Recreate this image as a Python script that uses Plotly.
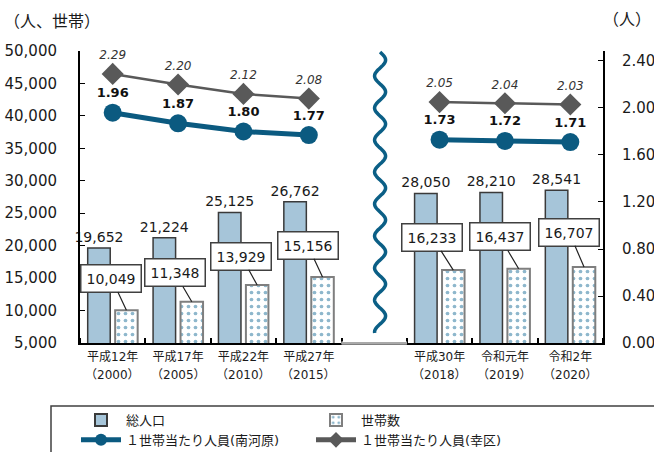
import numpy as np
import plotly.graph_objects as go

# ---- data -------------------------------------------------------------
era_labels = ["平成12年", "平成17年", "平成22年", "平成27年", "", "平成30年", "令和元年", "令和2年"]
year_labels = ["（2000）", "（2005）", "（2010）", "（2015）", "", "（2018）", "（2019）", "（2020）"]
population = [19652, 21224, 25125, 26762, None, 28050, 28210, 28541]
households = [10049, 11348, 13929, 15156, None, 16233, 16437, 16707]
persons_minamikawara = [1.96, 1.87, 1.80, 1.77, None, 1.73, 1.72, 1.71]
persons_saiwai = [2.29, 2.20, 2.12, 2.08, None, 2.05, 2.04, 2.03]

# offsets (px) of the household value boxes from the bar tops
box_offsets = [(-15, -32), (-17, -29), (-16, -29), (-15, -32), None,
               (-21, -33), (-19, -32), (-15, -35)]

W, H = 654, 452
ML, MR, MT, MB = 80, 51, 51, 109
PW, PH = W - ML - MR, H - MT - MB

FONT = "DejaVu Sans, Noto Sans CJK JP, sans-serif"
BLUE = "#0B5A80"
GREY = "#595959"

x = list(range(len(era_labels)))
bargap, groupgap = 0.16, 0.18
bar_shift = (1 - bargap) / 4  # centre of each bar within its slot


def px_to_paper_x(px):
    return (px - ML) / PW


def px_to_paper_y(py):
    return (H - MB - py) / PH


fig = go.Figure()

fig.add_trace(go.Bar(
    x=x, y=population, name="総人口",
    marker=dict(color="#A6C5D9", line=dict(color="#3a3a3a", width=1.5)),
    texttemplate="%{y:,}", textposition="outside", constraintext="none",
    textfont=dict(size=14, color="#1a1a1a"), cliponaxis=False,
))
fig.add_trace(go.Bar(
    x=x, y=households, name="世帯数",
    marker=dict(color="white", line=dict(color="#7f7f7f", width=2),
                pattern=dict(shape=".", fgcolor="#1d6f99", bgcolor="white",
                             size=7, solidity=0.22)),
))
fig.add_trace(go.Scatter(
    x=x, y=persons_minamikawara, name="１世帯当たり人員(南河原)", yaxis="y2",
    mode="lines+markers+text", connectgaps=False,
    line=dict(color=BLUE, width=5),
    marker=dict(symbol="circle", size=18, color=BLUE),
    texttemplate="<b>%{y:.2f}</b>", textposition="top center",
    textfont=dict(size=13, color="#111111"), cliponaxis=False,
))
fig.add_trace(go.Scatter(
    x=x, y=persons_saiwai, name="１世帯当たり人員(幸区)", yaxis="y2",
    mode="lines+markers+text", connectgaps=False,
    line=dict(color=GREY, width=2.5),
    marker=dict(symbol="diamond", size=17, color=GREY),
    texttemplate="<i>%{y:.2f}</i>", textposition="top center",
    textfont=dict(size=12, color="#333333"), cliponaxis=False,
))

annotations = []
# boxed household values with leader lines
for i, (v, off) in enumerate(zip(households, box_offsets)):
    if v is None:
        continue
    annotations.append(dict(
        x=i + bar_shift, y=v, xref="x", yref="y",
        text=f"{v:,}", showarrow=True, arrowhead=0, arrowwidth=1.2,
        arrowcolor="#222222", ax=off[0], ay=off[1],
        bgcolor="white", bordercolor="#404040", borderwidth=1.5, borderpad=5,
        font=dict(size=14, color="#1a1a1a"),
    ))
# second line of the category labels (western year)
for i, lab in enumerate(year_labels):
    if lab:
        annotations.append(dict(
            x=i, y=0, xref="x", yref="paper", yanchor="top", yshift=-23,
            text=lab, showarrow=False, font=dict(size=12, color="#1a1a1a"),
        ))
# unit labels
annotations.append(dict(x=px_to_paper_x(52), y=px_to_paper_y(21), xref="paper", yref="paper",
                        text="（人、世帯）", showarrow=False, xanchor="center", yanchor="middle",
                        font=dict(size=16, color="#1a1a1a")))
annotations.append(dict(x=px_to_paper_x(653), y=px_to_paper_y(20), xref="paper", yref="paper",
                        text="（人）", showarrow=False, xanchor="right", yanchor="middle",
                        font=dict(size=16, color="#1a1a1a")))

# wavy break mark between 2015 and 2018
y_px = np.linspace(52, 333, 300)
wave_x = 4.09 + (5.5 / PW * 8) * np.sin(2 * np.pi * (y_px - 52) / 32)
wave_path = "M " + " L ".join(f"{a:.4f},{px_to_paper_y(b):.4f}" for a, b in zip(wave_x, y_px))

shapes = [
    dict(type="path", path=wave_path, xref="x", yref="paper",
         line=dict(color="#0B5F86", width=3.5)),
    dict(type="line", x0=3.5, x1=4.5, y0=0, y1=0, xref="x", yref="paper",
         line=dict(color="white", width=3), layer="above"),
    dict(type="line", x0=3.5, x1=4.5, y0=0, y1=0, xref="x", yref="paper",
         line=dict(color="#8c8c8c", width=1.5), layer="above"),
    # legend frame
    dict(type="rect", xref="paper", yref="paper",
         x0=px_to_paper_x(51), x1=px_to_paper_x(662),
         y0=px_to_paper_y(406), y1=px_to_paper_y(462),
         line=dict(color="#404040", width=1.5), fillcolor="rgba(0,0,0,0)"),
]

fig.update_layout(
    width=W, height=H,
    margin=dict(l=ML, r=MR, t=MT, b=MB, autoexpand=False),
    paper_bgcolor="white", plot_bgcolor="white",
    font=dict(family=FONT, color="#1a1a1a"),
    barmode="group", bargap=bargap, bargroupgap=groupgap,
    showlegend=True,
    legend=dict(orientation="h", x=76 / W, y=1 - 405 / H,
                xref="container", yref="container",
                xanchor="left", yanchor="top", entrywidth=180, entrywidthmode="pixels",
                itemwidth=40, itemsizing="constant", font=dict(size=13),
                bgcolor="rgba(0,0,0,0)", traceorder="normal"),
    xaxis=dict(range=[-0.5, 7.5], tickmode="array", tickvals=x, ticktext=era_labels,
               ticks="", showline=True, linecolor="black", linewidth=2,
               showgrid=False, zeroline=False, tickfont=dict(size=12),
               ticklabelstandoff=2, automargin=False,
               minor=dict(tickmode="array", tickvals=[i - 0.5 for i in range(len(x) + 1)],
                          ticks="inside", ticklen=5, tickcolor="black", tickwidth=1.5)),
    yaxis=dict(range=[5000, 50000], dtick=5000, tickformat=",", ticks="inside",
               ticklen=5, tickcolor="black", showline=True, linecolor="black",
               linewidth=2, showgrid=False, zeroline=False, automargin=False,
               tickfont=dict(size=15), ticklabelstandoff=18),
    yaxis2=dict(overlaying="y", side="right", range=[0, 2.485],
                tickmode="array", tickvals=[0, 0.4, 0.8, 1.2, 1.6, 2.0, 2.4],
                tickformat=".2f", ticks="inside", ticklen=5, tickcolor="black",
                showline=True, linecolor="black", linewidth=2, showgrid=False,
                zeroline=False, automargin=False,
                tickfont=dict(size=15), ticklabelstandoff=14),
    annotations=annotations, shapes=shapes,
)

fig.write_html("out.html")
